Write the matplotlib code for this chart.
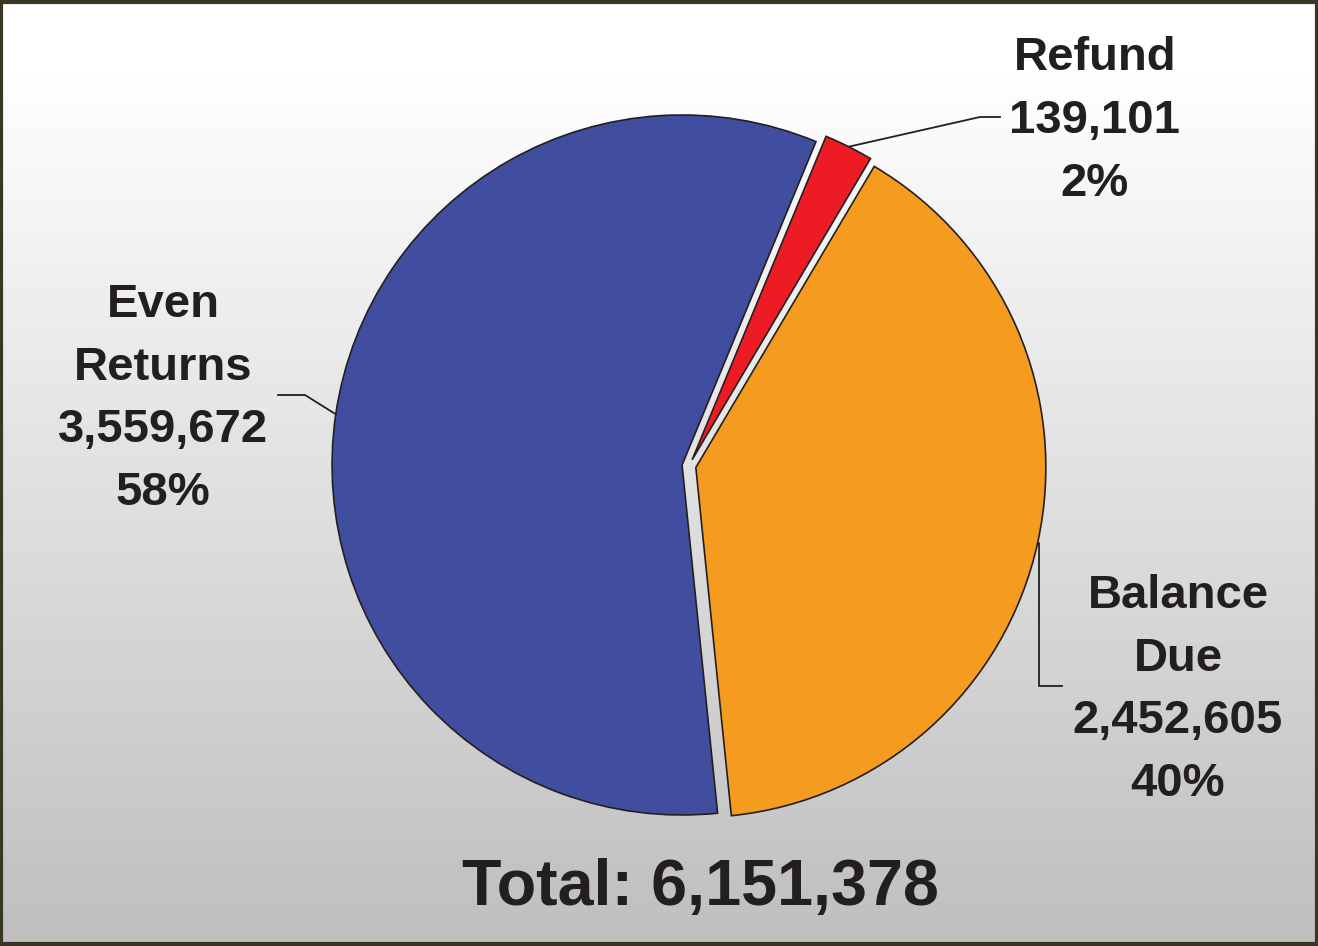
import numpy as np
import matplotlib.pyplot as plt
from matplotlib.patches import Rectangle

# data
labels = ["Refund", "Balance\nDue", "Even\nReturns"]
counts = [139101, 2452605, 3559672]
colors = ["#ED1C24", "#F59B1F", "#414E9F"]
total_label = "Total: 6,151,378"

W, H = 1318, 946
plt.rcParams['font.family'] = ['Liberation Sans', 'DejaVu Sans']
fig = plt.figure(figsize=(W / 100, H / 100), dpi=100)
ax = fig.add_axes([0, 0, 1, 1])

# gray gradient background: white at the top, gray at the bottom
grad = np.clip((np.linspace(0, H, 300) - 60) / (H - 60), 0, 1)[:, None]
ax.imshow(255 - grad * 65, cmap='gray', vmin=0, vmax=255, origin='upper',
          extent=[0, W, 0, H], aspect='auto', zorder=0)

# the axes is in pixel units, so explode is a pixel offset here
wedges, _ = ax.pie(counts, colors=colors, startangle=67.5, counterclock=False,
                   center=(689, H - 466), radius=350,
                   explode=[7, 7, 7],
                   wedgeprops=dict(edgecolor='#231F20', linewidth=1.2))
for w in wedges:
    w.set_zorder(2)

# pie() resets the limits, so set them afterwards
ax.set_xlim(0, W)
ax.set_ylim(0, H)
ax.set_aspect('equal')
ax.axis('off')

ink = '#231F20'
fmt = lambda v: f"{v:,}\n{round(100 * v / sum(counts))}%"

# label blocks: (text centre, elbow points of the leader)
places = [((1095, 121), [(980, 117), (1000, 117)]),
          ((1178, 690), [(1039, 686), (1062, 686)]),
          ((163, 399), [(305, 395), (278, 395)])]

for w, lab, v, (pos, elbow) in zip(wedges, labels, counts, places):
    mid = np.deg2rad((w.theta1 + w.theta2) / 2)
    sx = w.center[0] + w.r * np.cos(mid)
    sy = w.center[1] + w.r * np.sin(mid)
    xs = [sx] + [p[0] for p in elbow]
    ys = [sy] + [H - p[1] for p in elbow]
    if lab.startswith("Balance"):
        xs.insert(1, 1039)
        ys.insert(1, sy)
    ax.plot(xs, ys, color=ink, lw=1.3, zorder=3)
    ax.text(pos[0], H - pos[1], lab + "\n" + fmt(v), ha='center', va='center',
            fontsize=34, fontweight='bold', color=ink, linespacing=1.55, zorder=4)

ax.text(700, H - 888, total_label, ha='center', va='center',
        fontsize=46.5, fontweight='bold', color=ink, zorder=4)

fig.patches.append(Rectangle((0.001, 0.002), 0.998, 0.996, transform=fig.transFigure,
                             fill=False, edgecolor='#3b3623', linewidth=3))

fig.savefig("out.png", dpi=100)
